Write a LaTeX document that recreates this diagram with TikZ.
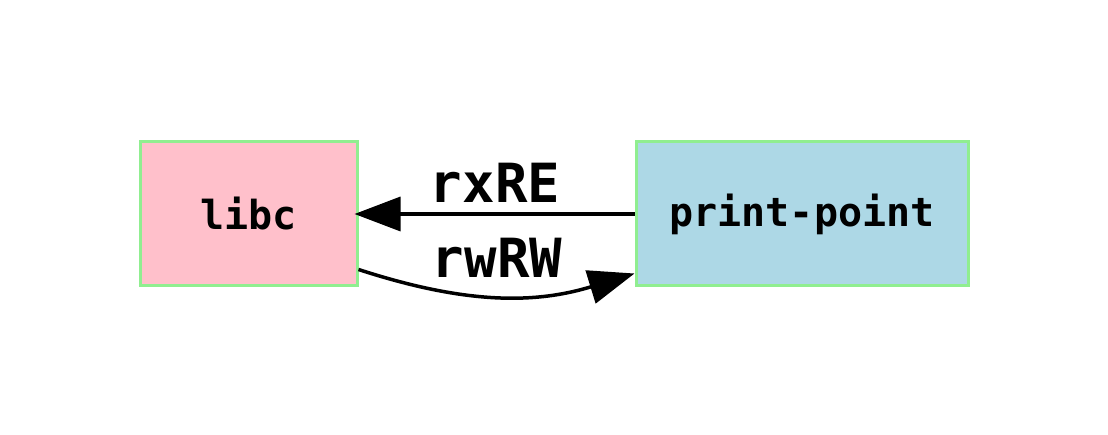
\documentclass[tikz,border=0pt]{standalone}
\usepackage{fontspec}
\setmonofont{DejaVu Sans Mono}
\usepackage{tikz}
\usetikzlibrary{arrows.meta, positioning}
\definecolor{boxpink}{RGB}{255,192,203}
\definecolor{boxblue}{RGB}{173,216,230}
\definecolor{boxedge}{RGB}{144,238,144}

\begin{document}
\begin{tikzpicture}[x=1pt, y=1pt,
  modbox/.style={draw=boxedge, line width=3pt, inner sep=0pt,
    font=\ttfamily\bfseries\fontsize{40}{40}\selectfont},
  edgelabel/.style={font=\ttfamily\bfseries\fontsize{54}{54}\selectfont, inner sep=0pt},
  link/.style={line width=3.5pt, -{Triangle[length=46pt, width=34pt]}}]
  \useasboundingbox (0,0) rectangle (1108,434);

  % modules
  \node[modbox, fill=boxpink, minimum width=217pt, minimum height=144pt] (libc) at (248.5,220) {libc};
  \node[modbox, fill=boxblue, minimum width=332pt, minimum height=144pt] (printpoint) at (802,220) {print-point};

  % edges
  \draw[link] (printpoint.west) -- ([xshift=-4pt]libc.east);
  \draw[link] ([yshift=18pt]libc.south east) to[out=-18, in=197] ([yshift=14pt]printpoint.south west);

  \node[edgelabel] (rxlabel) at (495,251) {rxRE};
  \node[edgelabel] (rwlabel) at (497,176) {rwRW};
\end{tikzpicture}
\end{document}
